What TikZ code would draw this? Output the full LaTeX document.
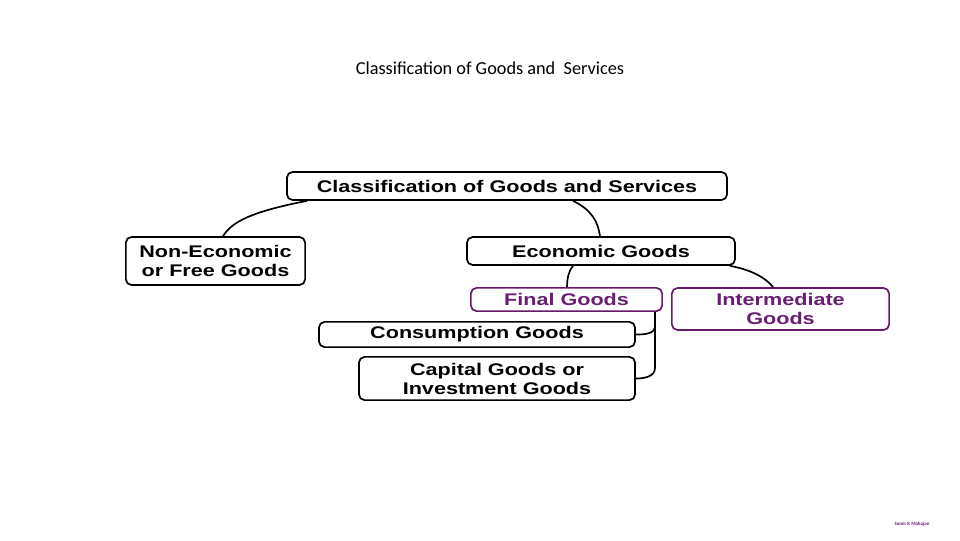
\documentclass[tikz,border=0pt]{standalone}
\usepackage{fontspec}
\setmainfont{Carlito}
\newfontfamily\boxfont[FakeStretch=1.28]{Liberation Sans}
\usepackage{xcolor}
\usetikzlibrary{positioning}
\definecolor{plum}{RGB}{105,25,105}
\definecolor{plumtext}{RGB}{105,30,115}

\begin{document}
\begin{tikzpicture}[
  x=0.025cm, y=-0.025cm,
  box/.style={rectangle, draw, line width=1.2pt, rounded corners=4pt, inner sep=0pt, align=center,
    font=\boxfont\bfseries\fontsize{12}{13.5}\selectfont},
  pbox/.style={box, draw=plum, text=plumtext},
  link/.style={line width=1.2pt}
]
\useasboundingbox (0,0) rectangle (960,540);

\node[font=\fontsize{13}{15}\selectfont] (title) at (490,68) {Classification of Goods and\ \ Services};

\node[box, minimum width=11cm, minimum height=0.7cm] (root) at (507,186) {Classification of Goods and Services};

\node[box, minimum width=4.48cm, minimum height=1.2cm] (free) at (215.5,261) {Non-Economic\\or Free Goods};
\node[box, minimum width=6.7cm, minimum height=0.7cm] (econ) at (601,251) {Economic Goods};

\node[pbox, minimum width=4.78cm, minimum height=0.58cm] (final) at (566.5,299.5) {Final Goods};
\node[pbox, minimum width=5.43cm, minimum height=1.05cm] (inter) at (780.5,309) {Intermediate\\Goods};

\node[box, minimum width=7.9cm, minimum height=0.63cm] (cons) at (477,334.5) {Consumption Goods};
\node[box, minimum width=6.9cm, minimum height=1.08cm] (capi) at (497,378.5) {Capital Goods or\\Investment Goods};

\node[font=\fontsize{3.5}{4}\selectfont\bfseries, text=plumtext] (author) at (912,524) {Samir K Mahajan};

% tree links
\draw[link] (root.south -| 307,0) .. controls (250,212) and (232,222) .. (free.north -| 223,0);
\draw[link] (root.south -| 573,0) .. controls (592,210) and (598,222) .. (econ.north -| 600,0);
\draw[link] (econ.south -| 573,0) .. controls (568,272) and (567,280) .. (final.north -| 567,0);
\draw[link] (econ.south -| 730,0) .. controls (752,270) and (766,278) .. (inter.north -| 773,0);

% bracket under final goods
\coordinate (stem) at (final.south -| 655,0);
\draw[link] (stem) -- (655,368) to[out=-90,in=0] (capi.east);
\draw[link] (655,326) to[out=-90,in=0] (cons.east);
\end{tikzpicture}
\end{document}
